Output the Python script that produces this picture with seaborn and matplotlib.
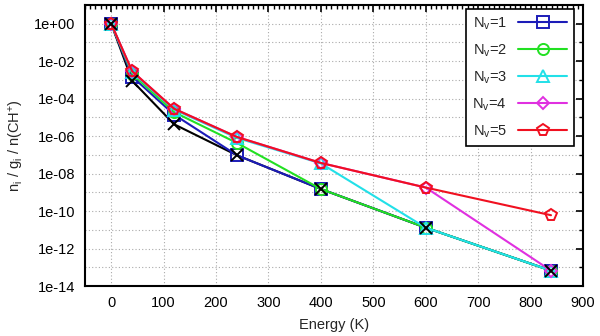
import matplotlib
matplotlib.use("Agg")
import matplotlib.pyplot as plt
import matplotlib.ticker as mticker
import seaborn as sns
import numpy as np
import pandas as pd

energy = [0, 40, 120, 240, 400, 600, 839]
ref_black = [1, 9e-4, 4.3e-6, 9.5e-8, 1.5e-9, 1.3e-11, 6.6e-14]
nv1 = [1, 1.5e-3, 1.4e-5, 9.5e-8, 1.5e-9, 1.3e-11, 6.6e-14]
nv2 = [1, 2.1e-3, 1.9e-5, 4.3e-7, 1.5e-9, 1.3e-11, 6.6e-14]
nv3 = [1, 2.6e-3, 2.6e-5, 8.0e-7, 3.5e-8, 1.3e-11, 6.6e-14]
nv4 = [1, 2.9e-3, 2.9e-5, 9.0e-7, 3.7e-8, 1.8e-9, 6.6e-14]
nv5 = [1, 2.9e-3, 2.9e-5, 9.0e-7, 3.7e-8, 1.8e-9, 6.0e-11]
labels = ["N$_v$=1", "N$_v$=2", "N$_v$=3", "N$_v$=4", "N$_v$=5"]
xticks = [0, 100, 200, 300, 400, 500, 600, 700, 800, 900]
yticks_exp = [0, -2, -4, -6, -8, -10, -12, -14]

sns.set_theme(style="white")
plt.rcParams['font.family'] = ['Liberation Sans', 'DejaVu Sans']
plt.rcParams['mathtext.fontset'] = 'custom'
plt.rcParams['mathtext.rm'] = 'Liberation Sans'
plt.rcParams['mathtext.it'] = 'Liberation Sans'

FS = 10.5
fig = plt.figure(figsize=(6, 3.36), dpi=100)
ax = fig.add_axes([85/600, 1-286/336, (583-85)/600, (286-5)/336])

series = [nv1, nv2, nv3, nv4, nv5]
colors = ["#1c1cb8", "#22e022", "#22e0e8", "#e030e0", "#f01020"]
markers = ["s", "o", "^", "D", "p"]
msizes = [8, 8, 8, 6.5, 8.5]

# black reference line (no legend)
df0 = pd.DataFrame({"E": energy, "v": ref_black})
sns.lineplot(data=df0, x="E", y="v", ax=ax, color="black", lw=1.5, zorder=1,
             legend=False, estimator=None, sort=False)

for vals, lab, c, m, ms in zip(series, labels, colors, markers, msizes):
    df = pd.DataFrame({"E": energy, "v": vals})
    sns.lineplot(data=df, x="E", y="v", ax=ax, color=c, lw=1.5, marker=m,
                 markersize=ms, markerfacecolor="none", markeredgecolor=c,
                 markeredgewidth=1.4, label=lab, estimator=None, sort=False, zorder=3)

ax.plot(energy, ref_black, linestyle="none", marker="x", color="black",
        markersize=8, markeredgewidth=1.4, zorder=5)

ax.set_yscale("log")
ax.set_xlim(-50, 900)
ax.set_ylim(1e-14, 1e1)
ax.set_xticks(xticks)
ax.set_xticklabels([str(t) for t in xticks])
ax.xaxis.set_minor_locator(mticker.MultipleLocator(10))
ax.set_yticks([10.0**e for e in yticks_exp])
ax.set_yticklabels(["1e+00" if e == 0 else "1e-%02d" % (-e) for e in yticks_exp])
ax.yaxis.set_minor_locator(mticker.FixedLocator([10.0**e for e in range(-13, 1, 2)]))
ax.yaxis.set_minor_formatter(mticker.NullFormatter())

ax.grid(True, which="major", color="#aaaaaa", linestyle=(0, (1, 2)), lw=0.8)
ax.grid(True, which="minor", axis="y", color="#aaaaaa", linestyle=(0, (1, 2)), lw=0.8)
ax.tick_params(which="both", direction="in", top=True, right=True, labelsize=FS, colors="black")
ax.tick_params(which="major", length=5, width=1.2, pad=7)
ax.tick_params(which="minor", length=3, width=1)
for s in ax.spines.values():
    s.set_color("black")
    s.set_linewidth(1.5)

ax.set_xlabel("Energy (K)", fontsize=FS, labelpad=6)
ax.set_ylabel("n$_i$ / g$_i$ / n(CH$^{+}$)", fontsize=FS, labelpad=6)

leg = ax.legend(loc="upper right", markerfirst=False, handlelength=3.4, fontsize=FS,
                frameon=True, fancybox=False, edgecolor="black", framealpha=1,
                borderpad=0.45, labelspacing=0.72, handletextpad=0.75,
                borderaxespad=0, bbox_to_anchor=(574/498 - 85/498, 1 - 4/281))
leg.get_frame().set_linewidth(1.2)

fig.savefig("out.png", dpi=100)
